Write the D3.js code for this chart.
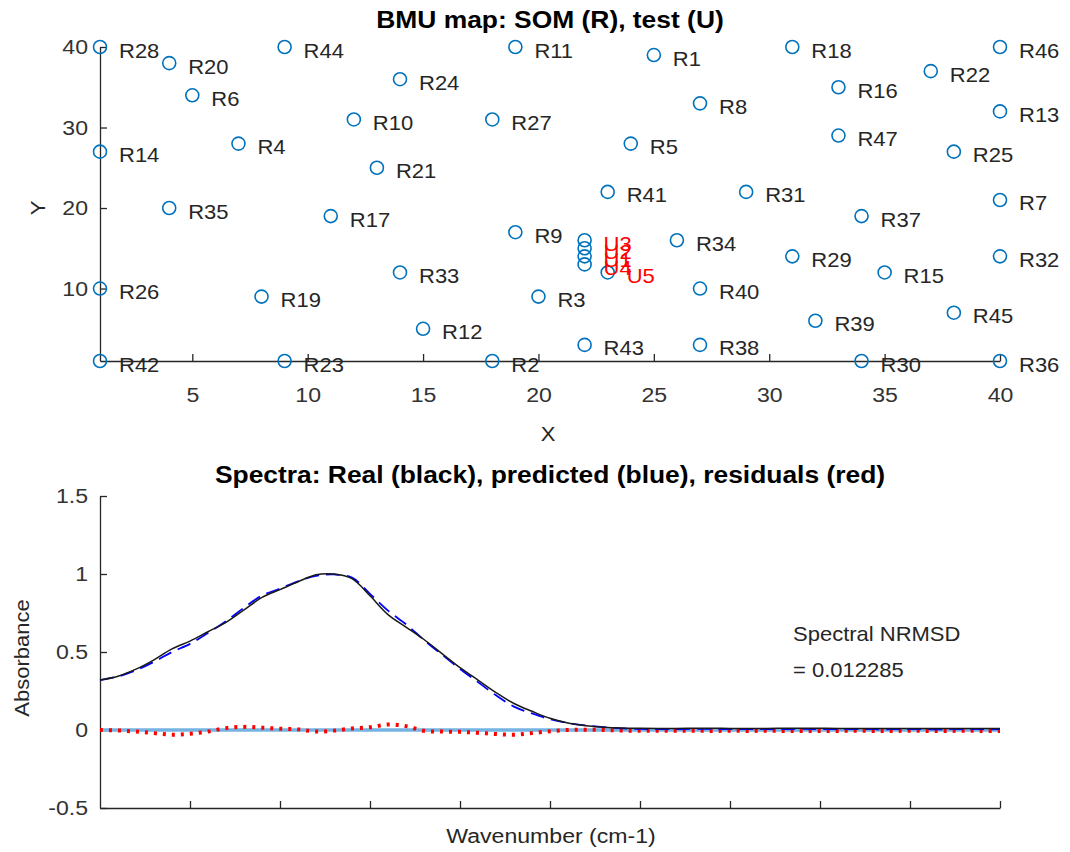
<!DOCTYPE html>
<html>
<head>
<meta charset="utf-8">
<script src="https://cdn.jsdelivr.net/npm/d3@7"></script>
<style>
  html, body { margin: 0; padding: 0; background: #fff; }
  svg { display: block; font-family: "Liberation Sans", Arial, Helvetica, sans-serif; }
</style>
</head>
<body>
<svg id="chart" width="1070" height="852"></svg>
<script>
// --- BMU map data: SOM nodes R1..R47 and test samples U1..U5
const somLabels = d3.range(1, 48).map((i) => `R${i}`);
const somX = [25, 18, 20, 7, 24, 5, 40, 27, 19, 12, 19, 15, 40, 1, 35, 33, 11, 31, 8, 4, 13, 37, 9, 14,
  38, 1, 18, 1, 31, 34, 29, 40, 14, 26, 4, 40, 34, 27, 32, 27, 23, 1, 22, 9, 38, 40, 33];
const somY = [39, 1, 9, 28, 28, 34, 21, 33, 17, 31, 40, 5, 32, 27, 12, 35, 19, 40, 9, 38, 25, 37, 1, 36,
  27, 10, 31, 40, 14, 1, 22, 14, 12, 16, 20, 1, 19, 3, 6, 10, 22, 1, 3, 40, 7, 40, 29];

const testLabels = ["U1", "U2", "U3", "U4", "U5"];
const testX = [22, 22, 22, 22, 23];
const testY = [14, 15, 16, 13, 12];

const mapTicksX = [5, 10, 15, 20, 25, 30, 35, 40];
const mapTicksY = [10, 20, 30, 40];

// --- Spectra (sampled every 2nd channel, 0..100)
const realSpectrum = [0.320, 0.345, 0.390, 0.450, 0.520, 0.570, 0.630, 0.690, 0.770, 0.850,
  0.900, 0.950, 0.995, 1.000, 0.970, 0.860, 0.740, 0.660, 0.580, 0.490,
  0.400, 0.320, 0.240, 0.170, 0.120, 0.075, 0.045, 0.028, 0.018, 0.013,
  0.011, 0.010, 0.010, 0.011, 0.012, 0.010, 0.010, 0.010, 0.011, 0.012,
  0.011, 0.010, 0.010, 0.010, 0.010, 0.010, 0.010, 0.010, 0.010, 0.010, 0.010];
const predictedSpectrum = [0.320, 0.343, 0.383, 0.437, 0.500, 0.552, 0.622, 0.698, 0.784, 0.862,
  0.906, 0.953, 0.988, 0.997, 0.977, 0.873, 0.765, 0.678, 0.577, 0.483,
  0.391, 0.307, 0.222, 0.150, 0.106, 0.069, 0.045, 0.029, 0.018, 0.010,
  0.007, 0.006, 0.006, 0.007, 0.007, 0.006, 0.005, 0.006, 0.006, 0.007,
  0.006, 0.005, 0.006, 0.005, 0.005, 0.006, 0.005, 0.005, 0.006, 0.005, 0.005];
const residualSpectrum = [0.000, -0.003, -0.010, -0.020, -0.030, -0.024, -0.010, 0.012, 0.020, 0.015,
  0.008, 0.004, -0.010, -0.004, 0.010, 0.018, 0.035, 0.025, -0.005, -0.010,
  -0.012, -0.018, -0.026, -0.030, -0.020, -0.008, 0.000, 0.002, 0.000, -0.004,
  -0.005, -0.005, -0.005, -0.005, -0.006, -0.005, -0.006, -0.005, -0.006, -0.006,
  -0.006, -0.006, -0.005, -0.006, -0.006, -0.005, -0.006, -0.006, -0.005, -0.006, -0.006];
const spectrumChannel = d3.range(0, 101, 2);
const absorbanceTicks = [-0.5, 0, 0.5, 1, 1.5];
const channelTicks = [10, 20, 30, 40, 50, 60, 70, 80, 90, 100];
const nrmsd = 0.012285;

// --- setup
const SX = 1.1; // reference text is slightly wider than tall
const textColor = "#262626";
const markerBlue = "#0072BD";
const svg = d3.select("#chart");

function label(parent, x, y, str, rotate) {
  return parent
    .append("text")
    .attr("transform", `translate(${x},${y})${rotate ? ` rotate(${rotate})` : ""} scale(${SX},1)`)
    .text(str);
}

function styleAxis(g, side) {
  g.call((g) => g.select(".domain").attr("stroke", textColor).attr("stroke-width", 1.3))
    .call((g) => g.selectAll(".tick line").attr("stroke", textColor).attr("stroke-width", 1.3))
    .call((g) =>
      g
        .selectAll(".tick text")
        .attr("fill", "#333")
        .attr("font-size", 21)
        .attr("transform", `scale(${SX},1)`)
    );
  if (side === "left") g.selectAll(".tick text").attr("x", -12 / SX);
}

// ---------- BMU map ----------
const mapX = d3.scaleLinear().domain([1, 40]).range([100, 1000]);
const mapY = d3.scaleLinear().domain([1, 40]).range([361, 47]);
const gMap = svg.append("g");

gMap
  .append("g")
  .attr("transform", `translate(0,${mapY(1)})`)
  .call(d3.axisBottom(mapX).tickValues(mapTicksX).tickSizeInner(-7).tickSizeOuter(0).tickPadding(26))
  .call(styleAxis, "bottom");
gMap
  .append("g")
  .attr("transform", `translate(${mapX(1)},0)`)
  .call(d3.axisLeft(mapY).tickValues(mapTicksY).tickSizeInner(-7).tickSizeOuter(0))
  .call(styleAxis, "left");

gMap
  .selectAll(".som-dot")
  .data(somLabels)
  .join("circle")
  .attr("class", "som-dot")
  .attr("cx", (d, i) => mapX(somX[i]))
  .attr("cy", (d, i) => mapY(somY[i]))
  .attr("r", 6.5)
  .attr("fill", "none")
  .attr("stroke", markerBlue)
  .attr("stroke-width", 1.6);
gMap
  .selectAll(".test-dot")
  .data(testLabels)
  .join("circle")
  .attr("class", "test-dot")
  .attr("cx", (d, i) => mapX(testX[i]))
  .attr("cy", (d, i) => mapY(testY[i]))
  .attr("r", 6.5)
  .attr("fill", "none")
  .attr("stroke", markerBlue)
  .attr("stroke-width", 1.6);

somLabels.forEach((d, i) =>
  label(gMap, mapX(somX[i]) + 19, mapY(somY[i]) + 10.5, d).attr("font-size", 20).attr("fill", textColor)
);
testLabels.forEach((d, i) =>
  label(gMap, mapX(testX[i]) + 19, mapY(testY[i]) + 10.5, d).attr("font-size", 20).attr("fill", "#ff0000")
);

label(svg, 550, 28, "BMU map: SOM (R), test (U)")
  .attr("text-anchor", "middle")
  .attr("font-weight", "bold")
  .attr("font-size", 24)
  .attr("fill", "#000");
label(svg, 548, 441, "X").attr("text-anchor", "middle").attr("font-size", 20).attr("fill", textColor);
label(svg, 45, 208, "Y", -90).attr("text-anchor", "middle").attr("font-size", 20).attr("fill", textColor);

// ---------- Spectra ----------
const specX = d3.scaleLinear().domain([0, 100]).range([100, 1000]);
const specY = d3.scaleLinear().domain([-0.5, 1.5]).range([808, 496]);
const gSpec = svg.append("g");

gSpec
  .append("g")
  .attr("transform", `translate(0,${specY(-0.5)})`)
  .call(d3.axisBottom(specX).tickValues(channelTicks).tickFormat("").tickSizeInner(-7).tickSizeOuter(0))
  .call(styleAxis, "bottom");
gSpec
  .append("g")
  .attr("transform", `translate(${specX(0)},0)`)
  .call(
    d3.axisLeft(specY).tickValues(absorbanceTicks).tickFormat((d) => String(d)).tickSizeInner(-7).tickSizeOuter(0)
  )
  .call(styleAxis, "left");

const line = (values) =>
  d3
    .line()
    .x((d, i) => specX(spectrumChannel[i]))
    .y((d) => specY(d))
    .curve(d3.curveCatmullRom.alpha(0.5))(values);

gSpec
  .append("path")
  .attr("d", line(spectrumChannel.map(() => 0)))
  .attr("fill", "none")
  .attr("stroke", "#74b3e2")
  .attr("stroke-width", 3.5);
gSpec
  .append("path")
  .attr("d", line(residualSpectrum))
  .attr("fill", "none")
  .attr("stroke", "#ff0000")
  .attr("stroke-width", 4)
  .attr("stroke-dasharray", "3,6");
gSpec
  .append("path")
  .attr("d", line(predictedSpectrum))
  .attr("fill", "none")
  .attr("stroke", "#0000ff")
  .attr("stroke-width", 1.8)
  .attr("stroke-dasharray", "14,7");
gSpec
  .append("path")
  .attr("d", line(realSpectrum))
  .attr("fill", "none")
  .attr("stroke", "#1a1a1a")
  .attr("stroke-width", 1.5);

label(svg, 550, 483, "Spectra: Real (black), predicted (blue), residuals (red)")
  .attr("text-anchor", "middle")
  .attr("font-weight", "bold")
  .attr("font-size", 24)
  .attr("fill", "#000");
label(svg, 551, 843, "Wavenumber (cm-1)").attr("text-anchor", "middle").attr("font-size", 21).attr("fill", textColor);
label(svg, 29, 658, "Absorbance", -90).attr("text-anchor", "middle").attr("font-size", 20).attr("fill", textColor);
label(svg, 793, 641, "Spectral NRMSD").attr("font-size", 20).attr("fill", textColor);
label(svg, 793, 677, `= ${nrmsd}`).attr("font-size", 20).attr("fill", textColor);
</script>
</body>
</html>
